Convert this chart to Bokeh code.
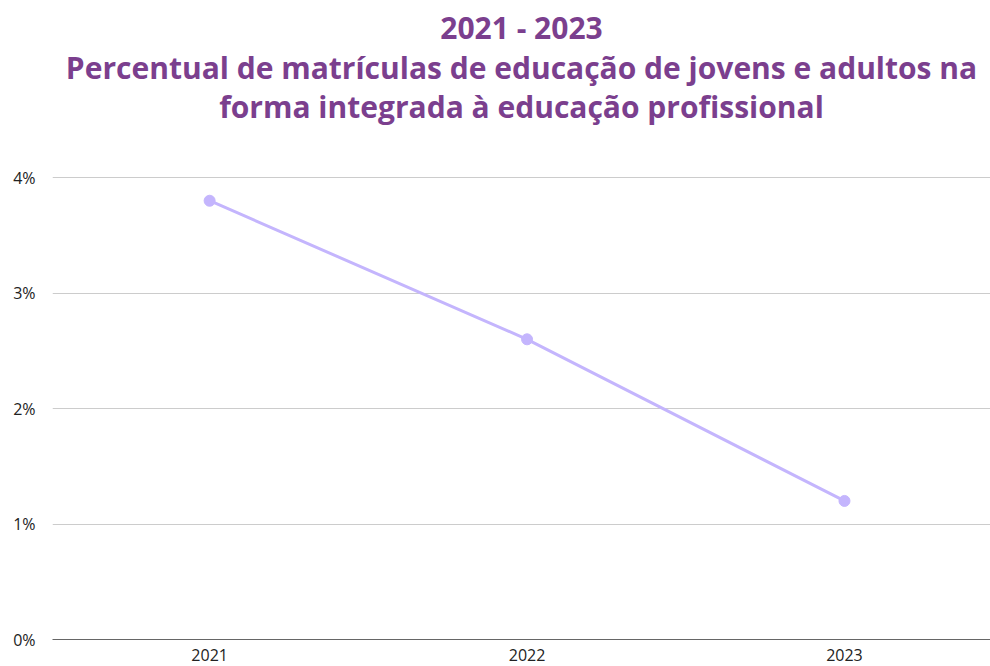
from bokeh.plotting import figure
from bokeh.models import Range1d, FixedTicker
from bokeh.layouts import column
from bokeh.core.properties import value
from bokeh.embed import file_html
from bokeh.resources import INLINE

years = [2021, 2022, 2023]
values = [3.8, 2.6, 1.2]
y_ticks = [0, 1, 2, 3, 4]
y_tick_labels = {0: "0%", 1: "1%", 2: "2%", 3: "3%", 4: "4%"}
title_lines = ["2021 - 2023",
               "Percentual de matrículas de educação de jovens e adultos na",
               "forma integrada à educação profissional"]

TITLE_H = 140
TOTAL_H = 666
# title block (its own small canvas, vertical positions in pixels from the top)
tp = figure(width=990, height=TITLE_H, output_backend="svg", toolbar_location=None,
            x_range=Range1d(0, 1), y_range=Range1d(0, TITLE_H),
            x_axis_type=None, y_axis_type=None, outline_line_color=None,
            min_border_left=0, min_border_right=0, min_border_top=0, min_border_bottom=0)
tp.xgrid.grid_line_color = None
tp.ygrid.grid_line_color = None
title_y = [TITLE_H - 27, TITLE_H - 67, TITLE_H - 106]
tp.text(x=[0.5] * 3, y=title_y, text=title_lines, text_align="center",
        text_baseline="middle", text_font=value("Open Sans"), text_font_size="30px",
        text_font_style="bold", text_color="#7b3f8e")

p = figure(width=990, height=TOTAL_H - TITLE_H, output_backend="svg", toolbar_location=None,
           x_range=Range1d(2020.505, 2023.46), y_range=Range1d(0, 4.01),
           min_border_left=52, min_border_right=0, min_border_bottom=27,
           min_border_top=176 - TITLE_H, outline_line_color=None)

p.line(years, values, line_color="#c4b5fd", line_width=3)
p.scatter(years, values, size=11, fill_color="#c4b5fd", line_color="#c4b5fd")

p.xaxis.ticker = FixedTicker(ticks=years)
p.yaxis.ticker = FixedTicker(ticks=y_ticks)
p.yaxis.major_label_overrides = y_tick_labels
for ax in (p.xaxis, p.yaxis):
    ax.major_tick_line_color = None
    ax.minor_tick_line_color = None
    ax.major_label_text_font = "Open Sans"
    ax.major_label_text_font_size = "16px"
    ax.major_label_text_color = "#222222"
p.yaxis.axis_line_color = None
p.yaxis.major_label_standoff = 11
p.xaxis.axis_line_color = "#666666"
p.xaxis.major_label_standoff = 3
p.xgrid.grid_line_color = None
p.ygrid.grid_line_color = "#cccccc"

layout = column(tp, p, spacing=0)
open("out.html", "w").write(file_html(layout, INLINE))
